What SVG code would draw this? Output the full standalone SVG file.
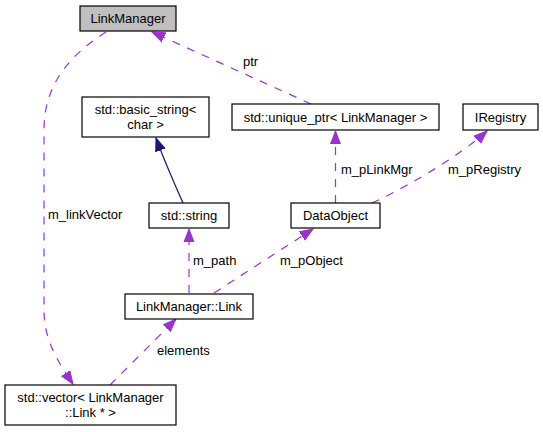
<svg xmlns="http://www.w3.org/2000/svg" width="543" height="432" viewBox="0 0 543 432">
<style>
.node rect{fill:#ffffff;stroke:#000000;stroke-width:1.2}
.node text, .lbl{font-family:"Liberation Sans",Arial,sans-serif;font-size:13px;fill:#000000}
.node text{text-anchor:middle}
.edge{fill:none;stroke:#9a32cd;stroke-width:1.2;stroke-dasharray:8,8}
.inh{fill:none;stroke:#191970;stroke-width:1.2}
</style>
<defs>
<marker id="ap" markerUnits="userSpaceOnUse" markerWidth="14" markerHeight="12" refX="13" refY="5" orient="auto" viewBox="0 0 14 10">
<path d="M0,0 L13,5 L0,10 z" fill="#9a32cd" stroke="#9a32cd" stroke-width="1"/>
</marker>
<marker id="an" markerUnits="userSpaceOnUse" markerWidth="14" markerHeight="12" refX="13" refY="5" orient="auto" viewBox="0 0 14 10">
<path d="M0,0 L13,5 L0,10 z" fill="#191970" stroke="#191970" stroke-width="1"/>
</marker>
</defs>
<rect width="543" height="432" fill="#ffffff"/>
<g id="edges">
<path class="edge" d="M106,32 C75,52 44,80 44,130 L44,310 C44,340 58,362 73,384" marker-end="url(#ap)"/>
<path class="edge" d="M311,104 L152,32" marker-end="url(#ap)"/>
<path class="inh" d="M183,203 C175,185 164,160 156,138" marker-end="url(#an)"/>
<path class="edge" d="M189,293 L189,229" marker-end="url(#ap)"/>
<path class="edge" d="M214,293 L313,229" marker-end="url(#ap)"/>
<path class="edge" d="M335.5,203 L335.5,131" marker-end="url(#ap)"/>
<path class="edge" d="M372,203 C395,193 455,160 487,131" marker-end="url(#ap)"/>
<path class="edge" d="M110,385 L176,319" marker-end="url(#ap)"/>
<text class="lbl" x="243" y="66">ptr</text>
<text class="lbl" x="48" y="219">m_linkVector</text>
<text class="lbl" x="341" y="174">m_pLinkMgr</text>
<text class="lbl" x="448" y="174">m_pRegistry</text>
<text class="lbl" x="193" y="265">m_path</text>
<text class="lbl" x="280" y="265">m_pObject</text>
<text class="lbl" x="157" y="355">elements</text>
</g>
<g id="node-LinkManager" class="node">
<rect x="80" y="6" width="96" height="25" style="fill:#bfbfbf"/>
<text x="128" y="23">LinkManager</text>
</g>
<g id="node-basic_string" class="node">
<rect x="82" y="97" width="127" height="40"/>
<text x="145.5" y="113.5">std::basic_string&lt;</text>
<text x="145.5" y="128.5">char &gt;</text>
</g>
<g id="node-unique_ptr" class="node">
<rect x="232" y="104" width="207" height="26"/>
<text x="335.5" y="121.5">std::unique_ptr&lt; LinkManager &gt;</text>
</g>
<g id="node-IRegistry" class="node">
<rect x="463" y="104" width="75" height="26"/>
<text x="500.5" y="121.5">IRegistry</text>
</g>
<g id="node-DataObject" class="node">
<rect x="291" y="203" width="89" height="25"/>
<text x="335.5" y="220">DataObject</text>
</g>
<g id="node-string" class="node">
<rect x="149" y="203" width="80" height="25"/>
<text x="189" y="220">std::string</text>
</g>
<g id="node-Link" class="node">
<rect x="125" y="294" width="128" height="25"/>
<text x="189" y="311">LinkManager::Link</text>
</g>
<g id="node-vector" class="node">
<rect x="5" y="385" width="171" height="40"/>
<text x="90.5" y="401.5">std::vector&lt; LinkManager</text>
<text x="90.5" y="416.5">::Link * &gt;</text>
</g>
</svg>
